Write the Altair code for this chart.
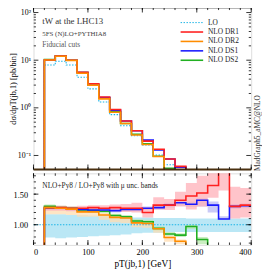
import altair as alt
import pandas as pd

# ---------------- data ----------------
bin_lo = list(range(20, 400, 20))          # 19 bins: 20-40 ... 380-400
x_end = 400

lo_top  = [7.9, 9.5, 7.9, 4.4, 2.5, 1.33, 0.72, 0.42, 0.26, 0.167, 0.102, 0.064, 0.042, 0.030, 0.021, 0.015, 0.011, 0.008, 0.006]
dr1_top = [10.1, 12.2, 10.0, 5.6, 3.2, 1.69, 0.92, 0.53, 0.33, 0.20, 0.135, 0.084, 0.059, 0.044, 0.032, 0.025, 0.022, 0.010, 0.008]
dr2_top = [10.1, 12.1, 9.9, 5.3, 3.0, 1.54, 0.81, 0.47, 0.27, 0.17, 0.095, 0.048, 0.031, 0.015, 0.008, 0.006, 0.004, 0.003, 0.002]
ds1_top = [10.0, 12.1, 10.0, 5.5, 3.1, 1.65, 0.89, 0.53, 0.33, 0.21, 0.130, 0.084, 0.057, 0.040, 0.029, 0.020, 0.012, 0.010, 0.008]
ds2_top = [10.3, 12.2, 10.0, 5.5, 3.1, 1.62, 0.83, 0.47, 0.28, 0.175, 0.096, 0.054, 0.035, 0.029, 0.016, 0.006, 0.004, 0.003, 0.002]

r_dr1 = [1.28, 1.28, 1.27, 1.27, 1.28, 1.27, 1.28, 1.27, 1.27, 1.20, 1.32, 1.32, 1.40, 1.47, 1.52, 1.64, 2.00, 1.30, 1.32]
r_dr2 = [1.28, 1.27, 1.255, 1.21, 1.21, 1.16, 1.12, 1.11, 1.03, 1.02, 0.935, 0.79, 0.73, 0.40, 0.40, 0.40, 0.40, 0.40, 0.40]
r_ds1 = [1.27, 1.27, 1.26, 1.25, 1.24, 1.24, 1.23, 1.25, 1.25, 1.27, 1.28, 1.32, 1.36, 1.335, 1.40, 1.32, 1.095, 1.30, 1.31]
r_ds2 = [1.30, 1.28, 1.27, 1.24, 1.23, 1.22, 1.15, 1.13, 1.06, 1.05, 0.94, 0.85, 0.83, 0.97, 0.76, 0.40, 0.40, 0.40, 0.40]

b_lo_lo  = [0.79, 0.78, 0.79, 0.80, 0.81, 0.82, 0.83, 0.84, 0.86, 0.87, 0.87, 0.88, 0.88, 0.88, 0.88, 0.88, 0.88, 0.88, 0.88]
b_lo_hi  = [1.17, 1.17, 1.16, 1.16, 1.15, 1.15, 1.14, 1.13, 1.12, 1.12, 1.11, 1.11, 1.11, 1.10, 1.10, 1.10, 1.10, 1.10, 1.10]
b_dr1_lo = [1.23, 1.23, 1.22, 1.22, 1.23, 1.22, 1.22, 1.21, 1.20, 1.12, 1.25, 1.24, 1.30, 1.25, 1.30, 1.44, 1.56, 1.10, 1.12]
b_dr1_hi = [1.31, 1.31, 1.30, 1.31, 1.32, 1.32, 1.33, 1.34, 1.36, 1.28, 1.45, 1.42, 1.54, 1.68, 1.80, 1.90, 2.30, 1.62, 1.60]
b_dr2_lo = [1.17, 1.17, 1.16, 1.13, 1.13, 1.08, 1.04, 1.03, 0.96, 0.95, 0.87, 0.72, 0.68, 0.30, 0.30, 0.30, 0.30, 0.30, 0.30]
b_dr2_hi = [1.30, 1.29, 1.28, 1.24, 1.24, 1.19, 1.15, 1.14, 1.06, 1.05, 0.96, 0.82, 0.76, 0.45, 0.45, 0.45, 0.45, 0.45, 0.45]
b_ds1_lo = [1.24, 1.24, 1.23, 1.22, 1.21, 1.21, 1.20, 1.22, 1.22, 1.24, 1.25, 1.28, 1.31, 1.29, 1.30, 1.20, 1.09, 1.26, 1.27]
b_ds1_hi = [1.29, 1.29, 1.28, 1.27, 1.27, 1.27, 1.26, 1.28, 1.28, 1.30, 1.32, 1.36, 1.40, 1.38, 1.43, 1.38, 1.14, 1.34, 1.35]
b_ds2_lo = [1.27, 1.25, 1.24, 1.21, 1.20, 1.19, 1.12, 1.10, 1.03, 1.02, 0.91, 0.82, 0.80, 0.93, 0.68, 0.30, 0.30, 0.30, 0.30]
b_ds2_hi = [1.33, 1.31, 1.30, 1.27, 1.26, 1.25, 1.18, 1.16, 1.09, 1.08, 0.97, 0.88, 0.86, 1.00, 0.80, 0.45, 0.45, 0.45, 0.45]

names  = ["LO", "NLO DR1", "NLO DR2", "NLO DS1", "NLO DS2"]
colors = ["#1ab4e6", "#ff2020", "#ff8c00", "#1a1aff", "#22b022"]
band_colors = ["#b2e4f4", "#ffb0b8", "#ffdcb0", "#b8b8f4", "#b8e8ac"]

x_major = [0, 100, 200, 300, 400]
x_minor = list(range(0, 401, 20))
y_top_major = [0.1, 1, 10, 100]
y_top_minor = [m * d for d in [0.1, 1, 10] for m in range(2, 10)]
y_bot_major = [1.0, 1.5]
y_bot_minor = [round(0.7 + 0.1 * i, 2) for i in range(12)]

# ---------------- helpers ----------------
W, HT, HB = 222, 165, 73
FONT = "Liberation Serif"
TOP_DOM = [0.051, 127]
BOT_DOM = [0.67, 1.84]


def step_df(vals, floor):
    xs = [0] + bin_lo + [x_end]
    ys = [floor] + list(vals) + [vals[-1]]
    return pd.DataFrame({"x": xs, "y": ys})


def band_df(lo, hi):
    xs = bin_lo + [x_end]
    return pd.DataFrame({"x": xs, "lo": list(lo) + [lo[-1]], "hi": list(hi) + [hi[-1]]})


xscale = alt.Scale(domain=[0, 400], nice=False, zero=False)


def ticks_layers(H, yscale, ymaj, ymin):
    out = []
    for vals, size in [(x_minor, 2.5), (x_major, 5)]:
        d = pd.DataFrame({"t": vals})
        out.append(alt.Chart(d).mark_rule(color="black", strokeWidth=0.8).encode(
            x=alt.X("t:Q", scale=xscale), y=alt.value(H), y2=alt.value(H - size)))
        out.append(alt.Chart(d).mark_rule(color="black", strokeWidth=0.8).encode(
            x=alt.X("t:Q", scale=xscale), y=alt.value(0), y2=alt.value(size)))
    for vals, size in [(ymin, 2.5), (ymaj, 5)]:
        d = pd.DataFrame({"t": vals})
        out.append(alt.Chart(d).mark_rule(color="black", strokeWidth=0.8, clip=True).encode(
            y=alt.Y("t:Q", scale=yscale), x=alt.value(0), x2=alt.value(size)))
        out.append(alt.Chart(d).mark_rule(color="black", strokeWidth=0.8, clip=True).encode(
            y=alt.Y("t:Q", scale=yscale), x=alt.value(W), x2=alt.value(W - size)))
    return out


# ---------------- top panel ----------------
ytop = alt.Scale(type="log", domain=TOP_DOM, nice=False)
top_series = [lo_top, dr1_top, dr2_top, ds1_top, ds2_top]
top_layers = []
draw_order = [0, 4, 3, 1, 2]
for i in draw_order:
    d = step_df(top_series[i], 1e-4)
    if i == 0:
        mk = alt.Chart(d).mark_line(interpolate="step-after", color=colors[i], strokeWidth=1.1,
                                    strokeDash=[1.5, 1.5], clip=True)
    else:
        mk = alt.Chart(d).mark_line(interpolate="step-after", color=colors[i], strokeWidth=1.6, clip=True)
    top_layers.append(mk.encode(
        x=alt.X("x:Q", scale=xscale, axis=alt.Axis(labels=False, ticks=False, title=None, domain=False, grid=False)),
        y=alt.Y("y:Q", scale=ytop, axis=alt.Axis(
            values=y_top_major, ticks=False, domain=False, grid=False,
            labelExpr="datum.value >= 99 ? '10²' : datum.value >= 9 ? '10¹' : datum.value >= 0.9 ? '10⁰' : '10⁻¹'",
            labelFont=FONT, labelFontSize=8, labelPadding=3, labelColor="black",
            title="dσ/dpT(jb,1)   [pb/bin]", titleFont=FONT, titleFontSize=8.5, titleFontWeight="normal",
            titlePadding=0, titleColor="black"))))

# frame accents
top_layers.append(alt.Chart(pd.DataFrame({"a": [0]})).mark_rule(color="#808080", strokeWidth=2).encode(
    x=alt.value(0), x2=alt.value(W), y=alt.value(0)))
top_layers.append(alt.Chart(pd.DataFrame({"a": [0]})).mark_rule(color="#4a3010", strokeWidth=2).encode(
    x=alt.value(0), x2=alt.value(W), y=alt.value(HT)))

# texts
txt = [("tW   at the LHC13", 9, 14, 9, "#333333"),
       ("5FS (N)LO+PYTHIA8", 9, 27, 7, "#444444"),
       ("Fiducial cuts", 9, 38, 7.5, "#555555")]
for s, xx, yy, fs, col in txt:
    top_layers.append(alt.Chart(pd.DataFrame({"a": [0]})).mark_text(
        text=s, align="left", baseline="middle", font=FONT, fontSize=fs, color=col).encode(
        x=alt.value(xx), y=alt.value(yy)))

# legend
leg_y0, leg_dy = 15.3, 9.6
for k in range(5):
    yy = leg_y0 + k * leg_dy
    if k == 0:
        rl = alt.Chart(pd.DataFrame({"a": [0]})).mark_rule(color=colors[k], strokeWidth=1, strokeDash=[1.5, 1.5])
    else:
        rl = alt.Chart(pd.DataFrame({"a": [0]})).mark_rule(color=colors[k], strokeWidth=1.6)
    top_layers.append(rl.encode(x=alt.value(150), x2=alt.value(173), y=alt.value(yy)))
    top_layers.append(alt.Chart(pd.DataFrame({"a": [0]})).mark_text(
        text=names[k], align="left", baseline="middle", font=FONT, fontSize=7.5, color="#222222").encode(
        x=alt.value(178), y=alt.value(yy)))

# side text
top_layers.append(alt.Chart(pd.DataFrame({"a": [0]})).mark_text(
    text="MadGraph5_aMC@NLO", angle=270, align="center", baseline="middle", font=FONT, fontSize=7.5,
    color="#333333").encode(x=alt.value(W + 7), y=alt.value(128)))

top_layers += ticks_layers(HT, ytop, y_top_major, y_top_minor)
top = alt.layer(*top_layers).properties(width=W, height=HT)

# ---------------- bottom panel ----------------
ybot = alt.Scale(domain=BOT_DOM, nice=False, zero=False)
bands = [(b_lo_lo, b_lo_hi), (b_dr1_lo, b_dr1_hi), (b_dr2_lo, b_dr2_hi), (b_ds1_lo, b_ds1_hi), (b_ds2_lo, b_ds2_hi)]
ratios = [None, r_dr1, r_dr2, r_ds1, r_ds2]
xax = alt.Axis(values=x_major, ticks=False, domain=False, grid=False, format="d",
               labelFont=FONT, labelFontSize=8.5, labelPadding=3, labelColor="black",
               title="pT(jb,1)    [GeV]", titleFont=FONT, titleFontSize=9.5, titleFontWeight="normal",
               titlePadding=2, titleColor="black")
yax = alt.Axis(values=y_bot_major, ticks=False, domain=False, grid=False, format=".2f",
               labelFont=FONT, labelFontSize=8.5, labelPadding=6, labelColor="black", title=None)

bot_layers = []
for i in [0, 2, 4, 3, 1]:
    lo, hi = bands[i]
    bot_layers.append(alt.Chart(band_df(lo, hi)).mark_area(
        interpolate="step-after", color=band_colors[i], opacity=0.75 if i else 0.9, clip=True).encode(
        x=alt.X("x:Q", scale=xscale, axis=xax),
        y=alt.Y("lo:Q", scale=ybot, axis=yax), y2="hi:Q"))

bot_layers.append(alt.Chart(pd.DataFrame({"x": [0, 400], "y": [1.0, 1.0]})).mark_line(
    color=colors[0], strokeWidth=1.1, strokeDash=[1.5, 1.5], clip=True).encode(
    x=alt.X("x:Q", scale=xscale), y=alt.Y("y:Q", scale=ybot)))
for i in [4, 3, 1, 2]:
    bot_layers.append(alt.Chart(step_df(ratios[i], 0.0)).mark_line(
        interpolate="step-after", color=colors[i], strokeWidth=1.6, clip=True).encode(
        x=alt.X("x:Q", scale=xscale), y=alt.Y("y:Q", scale=ybot)))

bot_layers.append(alt.Chart(pd.DataFrame({"a": [0]})).mark_text(
    text="NLO+Py8 / LO+Py8   with μ unc. bands", align="left", baseline="middle", font=FONT,
    fontSize=7.5, color="#222222").encode(x=alt.value(9), y=alt.value(13)))
bot_layers += ticks_layers(HB, ybot, y_bot_major, y_bot_minor)
bottom = alt.layer(*bot_layers).properties(width=W, height=HB)

chart = alt.vconcat(top, bottom, spacing=0).properties(
    padding={"left": 0, "top": -5, "right": 0, "bottom": 0}
).configure_view(stroke="black", strokeWidth=1).configure(background="white")

chart.save("out.html", embed_options={"renderer": "svg", "actions": False})
